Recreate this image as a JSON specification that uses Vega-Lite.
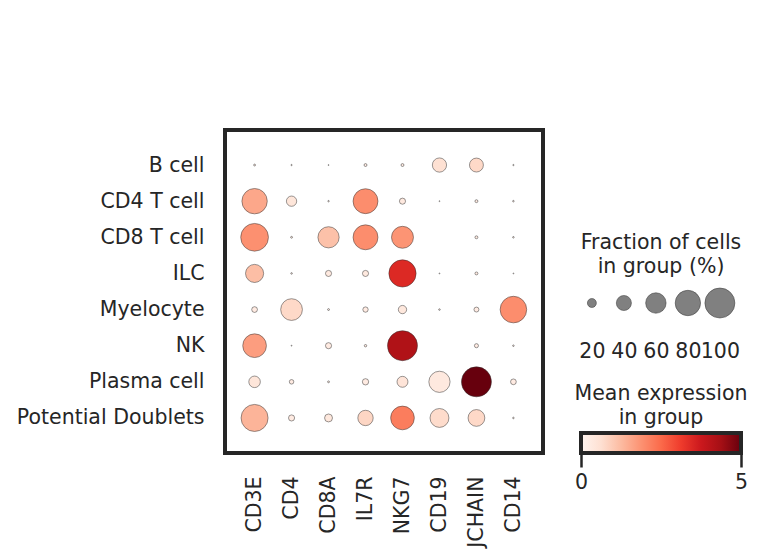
{
  "$schema": "https://vega.github.io/schema/vega-lite/v6.json",
  "padding": {"left": 14, "top": 128, "right": 5, "bottom": 5},
  "background": "white",
  "spacing": 29,
  "config": {
    "font": "DejaVu Sans",
    "view": {"stroke": null},
    "axis": {"labelFont": "DejaVu Sans", "labelColor": "#262626", "labelFontSize": 20.5, "labelLimit": 0, "grid": false, "domain": false, "ticks": false, "tickSize": 0},
    "title": {"font": "DejaVu Sans", "fontSize": 20.5, "fontWeight": "normal", "color": "#262626", "lineHeight": 24}
  },
  "hconcat": [
    {
      "width": 318,
      "height": 323,
      "view": {"stroke": "#262626", "strokeWidth": 4},
      "data": {"values": [
        {"group": "B cell", "gene": "CD3E", "frac": 2.5, "expr": 0.3},
        {"group": "B cell", "gene": "CD4", "frac": 1.5, "expr": 0.2},
        {"group": "B cell", "gene": "CD8A", "frac": 1, "expr": 0.2},
        {"group": "B cell", "gene": "IL7R", "frac": 4.5, "expr": 0.3},
        {"group": "B cell", "gene": "NKG7", "frac": 4.5, "expr": 0.3},
        {"group": "B cell", "gene": "CD19", "frac": 37, "expr": 0.6},
        {"group": "B cell", "gene": "JCHAIN", "frac": 36, "expr": 0.75},
        {"group": "B cell", "gene": "CD14", "frac": 1.5, "expr": 0.2},
        {"group": "CD4 T cell", "gene": "CD3E", "frac": 80, "expr": 1.55},
        {"group": "CD4 T cell", "gene": "CD4", "frac": 24, "expr": 0.45},
        {"group": "CD4 T cell", "gene": "CD8A", "frac": 1.8, "expr": 0.3},
        {"group": "CD4 T cell", "gene": "IL7R", "frac": 78, "expr": 1.95},
        {"group": "CD4 T cell", "gene": "NKG7", "frac": 12, "expr": 0.35},
        {"group": "CD4 T cell", "gene": "CD19", "frac": 1, "expr": 0.2},
        {"group": "CD4 T cell", "gene": "JCHAIN", "frac": 4.5, "expr": 0.3},
        {"group": "CD4 T cell", "gene": "CD14", "frac": 2, "expr": 0.3},
        {"group": "CD8 T cell", "gene": "CD3E", "frac": 90, "expr": 1.9},
        {"group": "CD8 T cell", "gene": "CD4", "frac": 2.5, "expr": 0.3},
        {"group": "CD8 T cell", "gene": "CD8A", "frac": 63, "expr": 1.15},
        {"group": "CD8 T cell", "gene": "IL7R", "frac": 78, "expr": 1.95},
        {"group": "CD8 T cell", "gene": "NKG7", "frac": 66, "expr": 1.85},
        {"group": "CD8 T cell", "gene": "CD19", "frac": 0, "expr": 0},
        {"group": "CD8 T cell", "gene": "JCHAIN", "frac": 4.5, "expr": 0.3},
        {"group": "CD8 T cell", "gene": "CD14", "frac": 2, "expr": 0.3},
        {"group": "ILC", "gene": "CD3E", "frac": 51, "expr": 1.2},
        {"group": "ILC", "gene": "CD4", "frac": 2, "expr": 0.3},
        {"group": "ILC", "gene": "CD8A", "frac": 12, "expr": 0.35},
        {"group": "ILC", "gene": "IL7R", "frac": 12, "expr": 0.35},
        {"group": "ILC", "gene": "NKG7", "frac": 88, "expr": 3.45},
        {"group": "ILC", "gene": "CD19", "frac": 1, "expr": 0.2},
        {"group": "ILC", "gene": "JCHAIN", "frac": 4.5, "expr": 0.3},
        {"group": "ILC", "gene": "CD14", "frac": 1, "expr": 0.2},
        {"group": "Myelocyte", "gene": "CD3E", "frac": 11, "expr": 0.3},
        {"group": "Myelocyte", "gene": "CD4", "frac": 65, "expr": 0.75},
        {"group": "Myelocyte", "gene": "CD8A", "frac": 2.5, "expr": 0.3},
        {"group": "Myelocyte", "gene": "IL7R", "frac": 10, "expr": 0.3},
        {"group": "Myelocyte", "gene": "NKG7", "frac": 18, "expr": 0.4},
        {"group": "Myelocyte", "gene": "CD19", "frac": 2, "expr": 0.3},
        {"group": "Myelocyte", "gene": "JCHAIN", "frac": 9, "expr": 0.3},
        {"group": "Myelocyte", "gene": "CD14", "frac": 85, "expr": 1.95},
        {"group": "NK", "gene": "CD3E", "frac": 73, "expr": 1.7},
        {"group": "NK", "gene": "CD4", "frac": 1, "expr": 0.2},
        {"group": "NK", "gene": "CD8A", "frac": 12, "expr": 0.3},
        {"group": "NK", "gene": "IL7R", "frac": 3.5, "expr": 0.3},
        {"group": "NK", "gene": "NKG7", "frac": 100, "expr": 4.2},
        {"group": "NK", "gene": "CD19", "frac": 0, "expr": 0},
        {"group": "NK", "gene": "JCHAIN", "frac": 7, "expr": 0.3},
        {"group": "NK", "gene": "CD14", "frac": 2, "expr": 0.3},
        {"group": "Plasma cell", "gene": "CD3E", "frac": 28, "expr": 0.45},
        {"group": "Plasma cell", "gene": "CD4", "frac": 8, "expr": 0.3},
        {"group": "Plasma cell", "gene": "CD8A", "frac": 2.5, "expr": 0.3},
        {"group": "Plasma cell", "gene": "IL7R", "frac": 12.5, "expr": 0.3},
        {"group": "Plasma cell", "gene": "NKG7", "frac": 26, "expr": 0.5},
        {"group": "Plasma cell", "gene": "CD19", "frac": 63, "expr": 0.35},
        {"group": "Plasma cell", "gene": "JCHAIN", "frac": 100, "expr": 5},
        {"group": "Plasma cell", "gene": "CD14", "frac": 11, "expr": 0.3},
        {"group": "Potential Doublets", "gene": "CD3E", "frac": 87, "expr": 1.35},
        {"group": "Potential Doublets", "gene": "CD4", "frac": 12, "expr": 0.3},
        {"group": "Potential Doublets", "gene": "CD8A", "frac": 17, "expr": 0.4},
        {"group": "Potential Doublets", "gene": "IL7R", "frac": 41, "expr": 0.8},
        {"group": "Potential Doublets", "gene": "NKG7", "frac": 73, "expr": 2.2},
        {"group": "Potential Doublets", "gene": "CD19", "frac": 54, "expr": 0.7},
        {"group": "Potential Doublets", "gene": "JCHAIN", "frac": 46, "expr": 0.75},
        {"group": "Potential Doublets", "gene": "CD14", "frac": 2, "expr": 0.3}
      ]},
      "mark": {"type": "circle", "stroke": "#333333", "strokeWidth": 0.5, "opacity": 1},
      "encoding": {
        "x": {"field": "gene", "type": "nominal", "sort": ["CD3E", "CD4", "CD8A", "IL7R", "NKG7", "CD19", "JCHAIN", "CD14"], "scale": {"type": "point", "padding": 0.8}, "axis": {"title": null, "labelAngle": -90, "labelPadding": 23}},
        "y": {"field": "group", "type": "nominal", "sort": ["B cell", "CD4 T cell", "CD8 T cell", "ILC", "Myelocyte", "NK", "Plasma cell", "Potential Doublets"], "scale": {"type": "point", "padding": 0.97}, "axis": {"title": null, "labelPadding": 21}},
        "size": {"field": "frac", "type": "quantitative", "scale": {"type": "pow", "exponent": 1.5, "domain": [0, 100], "range": [0, 900]}, "legend": null},
        "color": {"field": "expr", "type": "quantitative", "scale": {"domain": [0, 0.625, 1.25, 1.875, 2.5, 3.125, 3.75, 4.375, 5], "range": ["#fff5f0", "#fee0d2", "#fcbba1", "#fc9272", "#fb6a4a", "#ef3b2c", "#cb181d", "#a50f15", "#67000d"], "interpolate": "rgb"}, "legend": null}
      }
    },
    {
      "spacing": 21,
      "vconcat": [
        {
          "width": 160,
          "height": 81,
          "view": {"stroke": null},
          "data": {"values": []},
          "mark": {"type": "point", "opacity": 0},
          "encoding": {}
        },
        {
          "width": 160,
          "height": 20,
          "view": {"stroke": null},
          "title": {"text": ["Fraction of cells", "in group (%)"], "offset": 10},
          "data": {"values": [{"frac": 20}, {"frac": 40}, {"frac": 60}, {"frac": 80}, {"frac": 100}]},
          "mark": {"type": "circle", "fill": "#808080", "stroke": "#333333", "strokeWidth": 0.5, "opacity": 1},
          "encoding": {
            "x": {"field": "frac", "type": "ordinal", "scale": {"type": "point", "padding": 0.5, "align": 0.34}, "axis": {"title": null, "labelAngle": 0, "labelPadding": 28}},
            "size": {"field": "frac", "type": "quantitative", "scale": {"type": "pow", "exponent": 1.5, "domain": [0, 100], "range": [0, 900]}, "legend": null}
          }
        },
        {
          "width": 160,
          "height": 20,
          "view": {"stroke": null},
          "title": {"text": ["Mean expression", "in group"], "offset": 3},
          "data": {"values": [{"lo": 0, "hi": 5}]},
          "mark": {"type": "rect", "stroke": "#262626", "strokeWidth": 4, "fill": {"gradient": "linear", "x1": 0, "y1": 0, "x2": 1, "y2": 0, "stops": [
            {"offset": 0, "color": "#fff5f0"},
            {"offset": 0.125, "color": "#fee0d2"},
            {"offset": 0.25, "color": "#fcbba1"},
            {"offset": 0.375, "color": "#fc9272"},
            {"offset": 0.5, "color": "#fb6a4a"},
            {"offset": 0.625, "color": "#ef3b2c"},
            {"offset": 0.75, "color": "#cb181d"},
            {"offset": 0.875, "color": "#a50f15"},
            {"offset": 1, "color": "#67000d"}
          ]}},
          "encoding": {
            "x": {"field": "lo", "type": "quantitative", "scale": {"domain": [0, 5], "nice": false, "zero": false}, "axis": {"title": null, "values": [0, 5], "ticks": true, "tickSize": 14, "tickWidth": 2.5, "tickColor": "#262626", "labelPadding": 5, "labelFlush": false}},
            "x2": {"field": "hi"}
          }
        }
      ]
    }
  ]
}
